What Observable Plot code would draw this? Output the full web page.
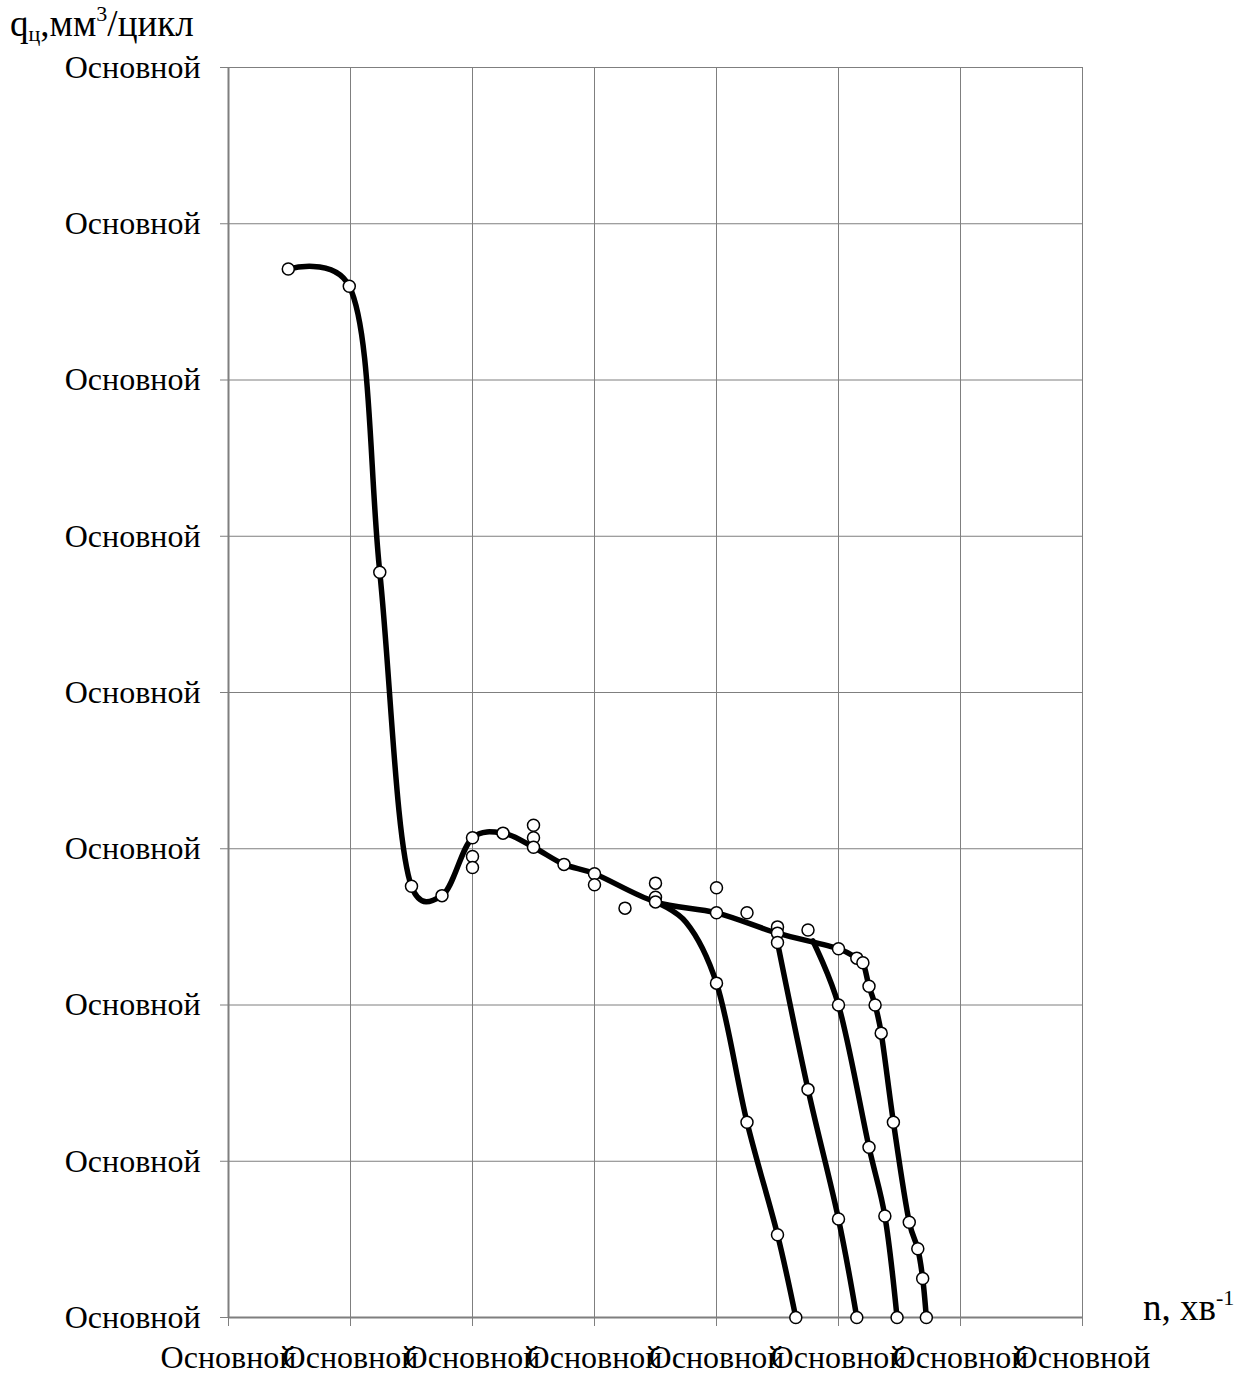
<!DOCTYPE html>
<html><head><meta charset="utf-8">
<script src="https://cdn.jsdelivr.net/npm/d3@7"></script>
<script src="https://cdn.jsdelivr.net/npm/@observablehq/plot@0.6"></script>
<style>
body{margin:0;background:#fff;}
#wrap{position:relative;width:1254px;height:1376px;font-family:"Liberation Serif","Times New Roman",serif;}
#wrap svg{position:absolute;left:0;top:0;}
.t{position:absolute;font-size:37px;line-height:1;color:#000;white-space:nowrap;z-index:2;}
.t sup{font-size:22px;vertical-align:0;position:relative;top:-15px;}
.t sub{font-size:22px;vertical-align:0;position:relative;top:5px;}
</style></head><body><div id="wrap">
<div class="t" id="ytitle" style="left:10px;top:5px">q<sub>ц</sub>,мм<sup>3</sup>/цикл</div>
<div class="t" id="xtitle" style="left:1143px;top:1289px">n, хв<sup>-1</sup></div>
</div>
<script>
// Axis ticks (labels in the source are all the literal text "Основной")
const xTicks = [0, 1, 2, 3, 4, 5, 6, 7];
const yTicks = [0, 1, 2, 3, 4, 5, 6, 7, 8];
const tickLabel = "Основной";

// Main curve
const mainX = [0.49, 0.99, 1.24, 1.50, 1.75, 2.00, 2.25, 2.50, 2.75, 3.00, 3.50, 4.00, 4.50, 5.00, 5.15, 5.20, 5.25, 5.30, 5.35, 5.45, 5.58, 5.65, 5.69, 5.72];
const mainY = [6.71, 6.60, 4.77, 2.76, 2.70, 3.07, 3.10, 3.01, 2.90, 2.84, 2.66, 2.59, 2.46, 2.36, 2.30, 2.27, 2.12, 2.00, 1.82, 1.25, 0.61, 0.44, 0.25, 0.00];

// Branch curves
const b1X = [3.50, 3.75, 4.00, 4.25, 4.50, 4.65];
const b1Y = [2.66, 2.53, 2.14, 1.25, 0.53, 0.00];
const b2X = [4.50, 4.75, 5.00, 5.15];
const b2Y = [2.40, 1.46, 0.63, 0.00];
const b3X = [4.79, 5.00, 5.25, 5.38, 5.48];
const b3Y = [2.41, 2.00, 1.09, 0.65, 0.00];

// Measured points (markers)
const dotX = [0.49, 0.99, 1.24, 1.50, 1.75, 2.00, 2.00, 2.00, 2.25, 2.50, 2.50, 2.50, 2.75, 3.00, 3.00, 3.25, 3.50, 3.50, 3.50, 4.00, 4.00, 4.25, 4.50, 4.50, 4.50, 4.75, 5.00, 5.15, 5.20, 5.25, 5.30, 5.35, 5.45, 5.58, 5.65, 5.69, 5.72,
              4.00, 4.25, 4.50, 4.65, 4.75, 5.00, 5.15, 5.00, 5.25, 5.38, 5.48];
const dotY = [6.71, 6.60, 4.77, 2.76, 2.70, 3.07, 2.95, 2.88, 3.10, 3.15, 3.07, 3.01, 2.90, 2.84, 2.77, 2.62, 2.78, 2.69, 2.66, 2.75, 2.59, 2.59, 2.50, 2.46, 2.40, 2.48, 2.36, 2.30, 2.27, 2.12, 2.00, 1.82, 1.25, 0.61, 0.44, 0.25, 0.00,
              2.14, 1.25, 0.53, 0.00, 1.46, 0.63, 0.00, 2.00, 1.09, 0.65, 0.00];

const series = [
  {name: "main", x: mainX, y: mainY},
  {name: "b1", x: b1X, y: b1Y},
  {name: "b2", x: b2X, y: b2Y},
  {name: "b3", x: b3X, y: b3Y}
];
const lineData = series.flatMap(s => s.x.map((x, i) => ({s: s.name, x, y: s.y[i]})));
const dots = dotX.map((x, i) => ({x, y: dotY[i]}));

const font = "Liberation Serif, Times New Roman, serif";
const chart = Plot.plot({
  width: 1254, height: 1376,
  marginLeft: 228, marginRight: 172, marginTop: 67, marginBottom: 59,
  style: {fontFamily: font, fontSize: "32px", color: "#000", background: "transparent", overflow: "visible"},
  x: {domain: [0, 7], label: null},
  y: {domain: [0, 8], label: null},
  marks: [
    Plot.gridX(xTicks, {stroke: "#7f7f7f", strokeOpacity: 1, strokeWidth: 1}),
    Plot.gridY(yTicks, {stroke: "#7f7f7f", strokeOpacity: 1, strokeWidth: 1}),
    Plot.ruleX([0], {stroke: "#7f7f7f", strokeWidth: 2}),
    Plot.ruleY([0], {stroke: "#7f7f7f", strokeWidth: 2}),
    Plot.axisX(xTicks, {tickFormat: () => tickLabel, tickSize: 9, tickPadding: 19, stroke: "#7f7f7f", fill: "#000", fontSize: 32, fontFamily: font, label: null}),
    Plot.axisY(yTicks, {tickFormat: () => tickLabel, tickSize: 8, tickPadding: 20, stroke: "#7f7f7f", fill: "#000", fontSize: 32, fontFamily: font, label: null}),
    Plot.line(lineData, {x: "x", y: "y", z: "s", curve: "catmull-rom", tension: 0.25, stroke: "#000", strokeWidth: 5.5}),
    Plot.dot(dots, {x: "x", y: "y", r: 6, fill: "#fff", stroke: "#000", strokeWidth: 1.5})
  ]
});
document.getElementById("wrap").appendChild(chart);
</script>
</body></html>
